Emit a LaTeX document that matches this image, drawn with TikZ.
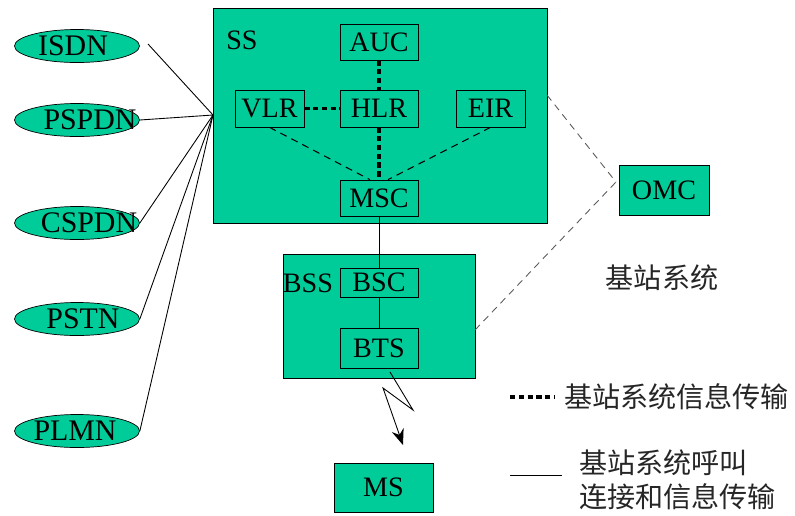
\documentclass[tikz,border=0pt]{standalone}
\usepackage{fontspec}
\setmainfont{Liberation Serif}
\newfontfamily\timesf{Liberation Serif}
\newfontfamily\cjk{Noto Sans CJK SC}
\usetikzlibrary{shapes.geometric,arrows.meta}
\definecolor{gsmgreen}{RGB}{0,204,153}
\begin{document}
\begin{tikzpicture}[x=0.02cm,y=-0.02cm,
    font=\timesf\fontsize{16}{18}\selectfont,
    every label/.style={font=\timesf\fontsize{17}{18}\selectfont},
    netnode/.style={ellipse, draw, fill=gsmgreen, minimum width=2.5cm, minimum height=0.66cm, inner sep=0pt},
    unitbox/.style={draw, fill=gsmgreen, minimum width=1.56cm, minimum height=0.72cm, inner sep=0pt},
    sysbox/.style={draw, fill=gsmgreen, inner sep=0pt},
    infoline/.style={line width=1.8pt, dash pattern=on 3pt off 2pt},
    thinline/.style={line width=0.5pt},
    omcline/.style={line width=0.5pt, gray!70!black, dash pattern=on 4pt off 3pt},
    cjktext/.style={font=\cjk\fontsize{16}{19.5}\selectfont, text=black!85}]
    \useasboundingbox (0,0) rectangle (795,515);
    % systems
    \node[sysbox, minimum width=6.68cm, minimum height=4.3cm] (ss) at (380,115.5) {};
    \node at (242,40) {SS};
    \node[sysbox, minimum width=3.84cm, minimum height=2.48cm] (bss) at (379,316) {};
    \node at (308,283) {BSS};
    % units in SS
    \node[unitbox] (auc) at (379,42) {AUC};
    \node[unitbox, minimum width=1.38cm, minimum height=0.74cm] (vlr) at (269.5,108.5) {VLR};
    \node[unitbox, minimum height=0.74cm] (hlr) at (379,108.5) {HLR};
    \node[unitbox, minimum width=1.38cm, minimum height=0.74cm] (eir) at (490.5,108.5) {EIR};
    \node[unitbox] (msc) at (379,198) {MSC};
    % units in BSS
    \node[unitbox, minimum height=0.58cm] (bsc) at (379,282.5) {BSC};
    \node[unitbox, minimum height=0.8cm] (bts) at (379,348) {BTS};
    \node[unitbox, minimum width=1.98cm, minimum height=0.98cm] (ms) at (383.5,487.5) {MS};
    \node[unitbox, minimum width=1.8cm, minimum height=1cm] (omc) at (664,190) {OMC};
    % networks
    \node[netnode, label={[xshift=-0.08cm]center:ISDN}] (isdn) at (77,46) {};
    \node[netnode, label={[xshift=0.26cm]center:PSPDN}] (pspdn) at (77,120) {};
    \node[netnode, label={[xshift=0.24cm]center:CSPDN}] (cspdn) at (77,223) {};
    \node[netnode, label={[xshift=0.12cm]center:PSTN}] (pstn) at (77,319) {};
    \node[netnode, label={[xshift=-0.04cm]center:PLMN}] (plmn) at (77,431) {};
    % links to networks
    \coordinate (ssin) at (213,115);
    \draw[thinline] (148,44) -- (ssin);
    \foreach \n in {pspdn,cspdn,pstn,plmn}
        \draw[thinline] (\n.east) -- (ssin);
    % info links
    \draw[infoline] (auc) -- (hlr);
    \draw[infoline] (vlr) -- (hlr);
    \draw[infoline] (hlr) -- (msc);
    \draw[omcline, black, line width=0.6pt] (vlr.south) -- ([xshift=-0.18cm]msc.north);
    \draw[omcline, black, line width=0.6pt] (eir.south) -- ([xshift=0.18cm]msc.north);
    % call links
    \draw[thinline] (msc) -- (bsc);
    \draw[thinline] (bsc) -- (bts);
    % omc
    \coordinate (ssr) at (547,95);
    \coordinate (bssr) at (475,330);
    \coordinate (omcin) at (616,182);
    \draw[omcline] (ssr) -- (omcin);
    \draw[omcline] (bssr) -- (omcin);
    % radio link
    \draw[thinline, -{Stealth[length=9pt, width=7pt]}] (390,372) -- (413,410) -- (383,388) -- (403,445);
    % labels and legend
    \node[cjktext] (bsslabel) at (662,278) {基站系统};
    \coordinate (lega) at (510,397);
    \coordinate (legb) at (555,397);
    \draw[infoline] (lega) -- (legb);
    \node[cjktext, anchor=west] (legtxt) at (558,397) {基站系统信息传输};
    \coordinate (legc) at (510,475);
    \coordinate (legd) at (562,475);
    \draw[thinline] (legc) -- (legd);
    \node[cjktext, anchor=west, align=left] (legtxt2) at (573,480) {基站系统呼叫\\连接和信息传输};
\end{tikzpicture}
\end{document}
